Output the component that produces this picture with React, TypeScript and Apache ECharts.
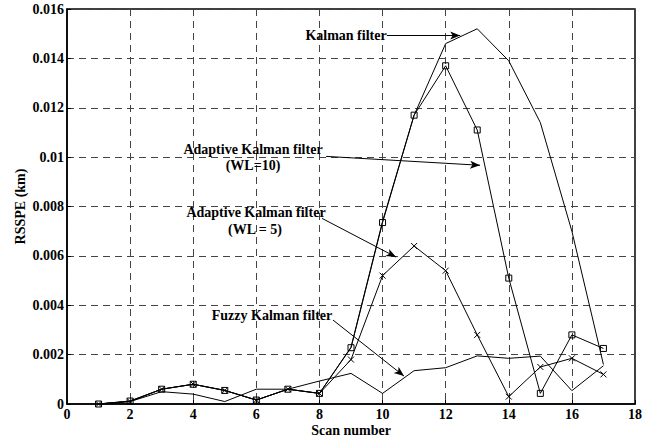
import React, { useEffect, useRef } from "react";
import * as echarts from "echarts";

const scans = [1, 2, 3, 4, 5, 6, 7, 8, 9, 10, 11, 12, 13, 14, 15, 16, 17];
const kalman = [0, 0.00012, 0.0006, 0.0008, 0.00055, 0.00016, 0.0006, 0.00043, 0.0023, 0.0074, 0.0117, 0.0146, 0.0152, 0.0139, 0.0114, 0.007, 0.0016];
const adaptive10 = [0, 0.00012, 0.0006, 0.0008, 0.00055, 0.00016, 0.0006, 0.00043, 0.00228, 0.00735, 0.0117, 0.0137, 0.0111, 0.0051, 0.00043, 0.0028, 0.00225];
const adaptive5 = [0, 0.0001, 0.0006, 0.0008, 0.00055, 0.00016, 0.0006, 0.00043, 0.0018, 0.0052, 0.0064, 0.0054, 0.0028, 0.0003, 0.0015, 0.00185, 0.0012];
const fuzzy = [0, 0.0001, 0.0005, 0.0004, 0.0001, 0.0006, 0.0006, 0.00093, 0.00124, 0.00043, 0.00135, 0.00147, 0.00195, 0.00185, 0.00194, 0.00054, 0.00155];

// annotation arrows in data coordinates: [x1, y1, x2, y2]
const arrows = [
  [10.14, 0.01493, 12.46, 0.01493],
  [8.21, 0.01003, 13.09, 0.00967],
  [8.08, 0.00752, 10.43, 0.00595],
  [8.43, 0.0034, 10.68, 0.00113],
];

const FONT = '"Liberation Serif", "Times New Roman", serif';

const pairs = (ys: number[]) => scans.map((x, i) => [x, ys[i]]);

export default function App() {
  const ref = useRef<HTMLDivElement>(null);
  useEffect(() => {
    if (!ref.current) return;
    const chart = echarts.init(ref.current, null, { renderer: "svg" });
    const txt = (x: number, y: number, text: string) => ({
      type: "text",
      x,
      y,
      z: 100,
      style: {
        text,
        fontFamily: FONT,
        fontWeight: "bold",
        fontSize: 14,
        align: "center",
        verticalAlign: "middle",
        fill: "#000",
      },
    });
    chart.setOption({
      animation: false,
      backgroundColor: "#fff",
      grid: {
        left: 67,
        right: 14,
        top: 9,
        bottom: 36,
        outerBoundsMode: "none",
        containLabel: false,
        show: true,
        borderColor: "#000",
        borderWidth: 1.5,
        backgroundColor: "transparent",
      },
      xAxis: {
        type: "value",
        min: 0,
        max: 18,
        interval: 2,
        name: "Scan number",
        nameLocation: "middle",
        nameGap: 26,
        nameMoveOverlap: false,
        nameTextStyle: { fontFamily: FONT, fontWeight: "bold", fontSize: 14, color: "#000", lineHeight: 14, padding: [0, 0, 0, 0], verticalAlign: "middle" },
        axisLine: { lineStyle: { color: "#000", width: 1.5 } },
        axisTick: { inside: true, length: 4, lineStyle: { color: "#000" } },
        axisLabel: { fontFamily: FONT, fontWeight: "bold", fontSize: 14, lineHeight: 14, color: "#000", margin: 3 },
        splitLine: { show: true, lineStyle: { color: "#444", type: [7, 5], width: 1 } },
      },
      yAxis: {
        type: "value",
        min: 0,
        max: 0.016,
        interval: 0.002,
        name: "RSSPE (km)",
        nameLocation: "middle",
        nameGap: 40,
        nameMoveOverlap: false,
        nameTextStyle: { fontFamily: FONT, fontWeight: "bold", fontSize: 14, color: "#000" },
        axisLine: { show: true, lineStyle: { color: "#000", width: 1.5 } },
        axisTick: { show: true, inside: true, length: 4, lineStyle: { color: "#000" } },
        axisLabel: { fontFamily: FONT, fontWeight: "bold", fontSize: 14, color: "#000", margin: 3 },
        splitLine: { show: true, lineStyle: { color: "#444", type: [7, 5], width: 1 } },
      },
      series: [
        {
          name: "Kalman filter",
          type: "line",
          data: pairs(kalman),
          showSymbol: false,
          symbol: "none",
          lineStyle: { color: "#000", width: 1 },
          markLine: {
            silent: true,
            symbol: ["none", "arrow"],
            symbolSize: [6, 10],
            label: { show: false },
            lineStyle: { color: "#000", width: 1, type: "solid" },
            data: arrows.map((a) => [{ coord: [a[0], a[1]] }, { coord: [a[2], a[3]] }]),
          },
        },
        {
          name: "Adaptive WL=10",
          type: "line",
          data: pairs(adaptive10),
          symbol: "rect",
          symbolSize: 6,
          itemStyle: { color: "transparent", borderColor: "#000", borderWidth: 1 },
          lineStyle: { color: "#000", width: 1 },
        },
        {
          name: "Adaptive WL=5",
          type: "line",
          data: pairs(adaptive5),
          symbol: "path://M0,0L10,10M10,0L0,10",
          symbolSize: 6,
          itemStyle: { color: "#000", borderColor: "#000", borderWidth: 1 },
          lineStyle: { color: "#000", width: 1 },
        },
        {
          name: "Fuzzy Kalman filter",
          type: "line",
          data: pairs(fuzzy),
          symbol: "none",
          lineStyle: { color: "#000", width: 1 },
        },
      ],
      graphic: [
        txt(346, 35, "Kalman filter"),
        txt(253, 149, "Adaptive Kalman filter"),
        txt(253, 165, "(WL=10)"),
        txt(256, 212, "Adaptive Kalman filter"),
        txt(255, 229, "(WL = 5)"),
        txt(272, 315, "Fuzzy Kalman filter"),
      ],
    });
    return () => chart.dispose();
  }, []);
  return <div ref={ref} style={{ width: 649, height: 440, position: "absolute", left: 0, top: 0 }} />;
}
